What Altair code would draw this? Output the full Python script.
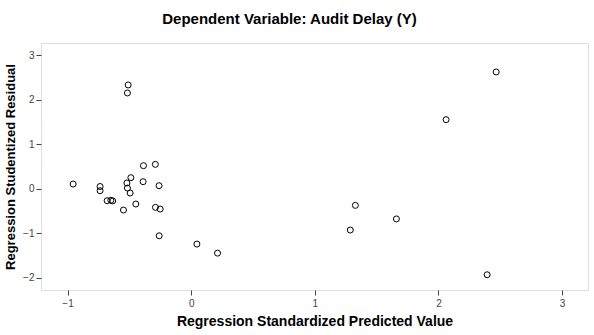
import altair as alt
import pandas as pd

predicted = [-0.955, -0.737, -0.737, -0.68, -0.65, -0.635, -0.548, -0.51, -0.516, -0.488,
             -0.52, -0.516, -0.494, -0.448, -0.386, -0.389, -0.29, -0.26, -0.289, -0.251,
             -0.259, 0.046, 0.213, 1.328, 1.287, 1.66, 2.062, 2.467, 2.394]
residual = [0.105, 0.05, -0.045, -0.27, -0.26, -0.275, -0.48, 2.335, 2.155, 0.248,
            0.128, 0.015, -0.097, -0.345, 0.518, 0.158, 0.548, 0.068, -0.42, -0.458,
            -1.06, -1.246, -1.45, -0.375, -0.93, -0.68, 1.554, 2.628, -1.937]
x_ticks = [-1, 0, 1, 2, 3]
y_ticks = [-2, -1, 0, 1, 2, 3]

df = pd.DataFrame({"pred": predicted, "resid": residual})

font = "Liberation Sans"

chart = alt.Chart(df).mark_point(
    shape="circle", filled=False, color="black", size=36, strokeWidth=1, opacity=1
).encode(
    x=alt.X("pred:Q",
            scale=alt.Scale(domain=[-1.215, 3.21], nice=False, zero=False),
            axis=alt.Axis(values=x_ticks, title="Regression Standardized Predicted Value",
                          grid=False, domain=False, tickSize=5, tickColor="#444444",
                          labelFontSize=10, labelColor="#444444", labelFont=font,
                          labelPadding=3, titleFont=font, titleFontSize=14,
                          titleFontWeight="bold", titleColor="black", titlePadding=6)),
    y=alt.Y("resid:Q",
            scale=alt.Scale(domain=[-2.28, 3.28], nice=False, zero=False),
            axis=alt.Axis(values=y_ticks, title="Regression Studentized Residual",
                          grid=False, domain=False, tickSize=5, tickColor="#444444",
                          labelFontSize=10, labelColor="#444444", labelFont=font,
                          labelPadding=2, titleFont=font, titleFontSize=13,
                          titleFontWeight="bold", titleColor="black", titlePadding=5)),
).properties(
    width=547,
    height=247,
    autosize="none",
    padding={"left": 41, "top": 43, "right": 6, "bottom": 45},
    title=alt.TitleParams("Dependent Variable: Audit Delay (Y)", font=font, fontSize=15,
                          fontWeight="bold", color="black", anchor="middle", dx=-25,
                          offset=16),
).configure_view(
    fill="#f0f0f0", stroke="black", strokeWidth=1
).configure(background="white")

chart.save("out.html", embed_options={"renderer": "svg", "actions": False})
